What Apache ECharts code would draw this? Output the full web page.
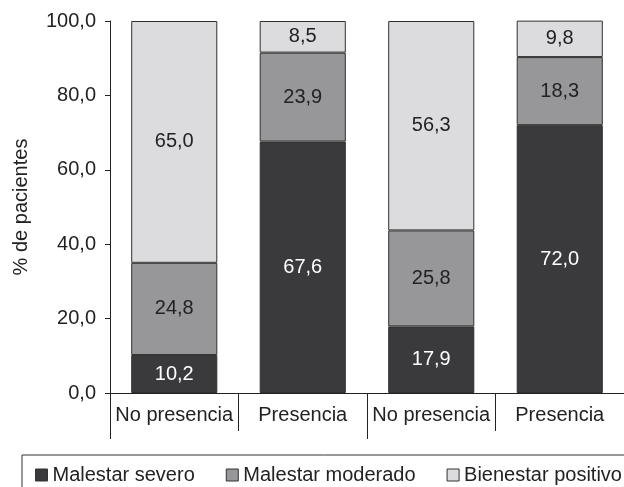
<!DOCTYPE html>
<html><head><meta charset="utf-8">
<script src="https://cdn.jsdelivr.net/npm/echarts@6/dist/echarts.min.js"></script>
<style>html,body{margin:0;padding:0;background:#fff}#c{width:624px;height:487px}</style>
</head><body><div id="c"></div>
<script>
const categories = ['No presencia', 'Presencia', 'No presencia', 'Presencia'];
const severo = [10.2, 67.6, 17.9, 72.0];
const moderado = [24.8, 23.9, 25.8, 18.3];
const positivo = [65.0, 8.5, 56.3, 9.8];
const yTicks = [0, 20, 40, 60, 80, 100];
const seriesNames = ['Malestar severo', 'Malestar moderado', 'Bienestar positivo'];

const fmt = v => Number(v).toFixed(1).replace('.', ',');
const font = 'Liberation Sans, Arial, sans-serif';
const FS = 20;
const chart = echarts.init(document.getElementById('c'));
function ser(name, data, color, labelColor) {
  return {
    name, type: 'bar', stack: 's', data, barWidth: '67%',
    itemStyle: { color, borderColor: '#303030', borderWidth: 1 },
    label: { show: true, position: 'inside', formatter: p => fmt(p.value), color: labelColor, fontSize: FS, fontFamily: font },
    emphasis: { disabled: true }
  };
}
chart.setOption({
  animation: false,
  textStyle: { fontFamily: font },
  grid: { left: 110, top: 21, width: 526, bottom: 94, containLabel: false },
  xAxis: [
    { type: 'category', data: categories, position: 'bottom',
      axisLine: { lineStyle: { color: '#222', width: 1 } },
      axisTick: { show: true, length: 38, lineStyle: { color: '#222' } },
      axisLabel: { interval: 0, color: '#222', fontSize: FS, margin: 12, fontFamily: font } },
    { type: 'category', data: ['', ''], position: 'bottom',
      axisLine: { show: false },
      axisTick: { show: true, length: 46, lineStyle: { color: '#222' } },
      axisLabel: { show: false } }
  ],
  yAxis: {
    type: 'value', min: yTicks[0], max: yTicks[yTicks.length - 1], interval: 20,
    name: '% de pacientes', nameLocation: 'middle', nameGap: 79, nameRotate: 90,
    nameTextStyle: { color: '#222', fontSize: FS, fontFamily: font },
    axisLine: { show: true, lineStyle: { color: '#222' } },
    axisTick: { show: true, length: 5, lineStyle: { color: '#222' } },
    axisLabel: { formatter: v => fmt(v), color: '#222', fontSize: FS, margin: 14, fontFamily: font },
    splitLine: { show: false }
  },
  legend: {
    left: 22, top: 455, width: 900, orient: 'horizontal',
    icon: 'rect', itemWidth: 12, itemHeight: 12, itemGap: 31,
    padding: [10, 60, 20, 13],
    borderColor: '#333', borderWidth: 1,
    textStyle: { fontSize: FS, color: '#222', fontFamily: font },
    data: seriesNames.map(n => ({ name: n, itemStyle: { borderColor: '#333', borderWidth: 1 } }))
  },
  series: [
    ser(seriesNames[0], severo, '#3a3a3c', '#ffffff'),
    ser(seriesNames[1], moderado, '#97979a', '#222'),
    ser(seriesNames[2], positivo, '#dcdcde', '#222')
  ]
});
</script></body></html>
